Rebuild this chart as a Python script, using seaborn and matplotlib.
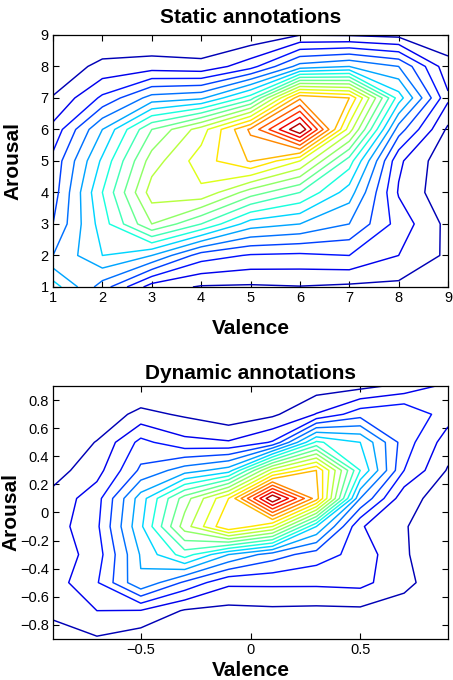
import numpy as np
import matplotlib
matplotlib.use("Agg")
import matplotlib.pyplot as plt
import seaborn as sns

# Static annotations: grid values
# rows go from arousal 1 (bottom) to 9 (top), columns valence 1..9
static_valence = [1, 2, 3, 4, 5, 6, 7, 8, 9]
static_arousal = [1, 2, 3, 4, 5, 6, 7, 8, 9]
static_z = [
    [7.5, 4.5, 1.5, 0.9, 0.85, 0.95, 0.8, 0.75, 0.3],
    [5.0, 7.0, 6.0, 3.5, 2.9, 2.8, 3.0, 2.0, 0.8],
    [4.0, 7.5, 11.0, 9.0, 6.5, 6.0, 5.0, 2.6, 0.7],
    [3.5, 8.0, 12.5, 12.8, 10.5, 9.0, 6.5, 1.9, 0.2],
    [3.3, 7.2, 11.5, 13.5, 15.1, 13.0, 8.5, 2.2, 0.2],
    [2.3, 6.0, 10.0, 12.5, 16.2, 21.0, 12.5, 4.5, 0.8],
    [1.05, 3.2, 5.4, 5.8, 8.5, 15.8, 15.0, 7.5, 2.2],
    [0.4, 1.25, 1.5, 1.3, 2.6, 5.4, 6.0, 5.0, 1.3],
    [0.1, 0.2, 0.0, 0.1, 0.2, 0.97, 0.9, 0.7, 0.4],
]
static_ticks = [1, 2, 3, 4, 5, 6, 7, 8, 9]

# Dynamic annotations: rows arousal -0.9 .. 0.9, columns valence -0.9 .. 0.9
dynamic_valence = [-0.9, -0.7, -0.5, -0.3, -0.1, 0.1, 0.3, 0.5, 0.7, 0.9]
dynamic_arousal = [-0.9, -0.7, -0.5, -0.3, -0.1, 0.1, 0.3, 0.5, 0.7, 0.9]
dynamic_z = [
    [0.6, 0.9, 0.4, 0.2, 0.2, 0.2, 0.2, 0.2, 0.2, 0.1],
    [1.2, 2.0, 1.95, 0.9, 0.7, 0.8, 0.75, 0.8, 0.5, 0.2],
    [1.5, 2.9, 5.9, 3.8, 2.2, 2.2, 2.2, 2.3, 1.3, 0.2],
    [1.3, 2.5, 6.1, 8.5, 6.0, 4.5, 3.5, 2.6, 1.1, 0.3],
    [1.5, 2.8, 6.8, 11.5, 15.0, 13.0, 7.0, 2.1, 1.05, 0.5],
    [1.3, 2.6, 6.5, 10.5, 14.0, 21.0, 15.5, 5.0, 1.3, 0.6],
    [0.6, 1.6, 4.2, 5.5, 6.5, 12.5, 15.0, 8.0, 3.0, 0.9],
    [0.2, 1.05, 3.3, 2.3, 2.1, 3.1, 8.2, 7.0, 3.5, 1.5],
    [0.1, 0.3, 1.3, 0.85, 0.3, 0.8, 2.05, 3.6, 4.0, 2.4],
    [0.0, 0.0, 0.0, 0.1, 0.0, 0.3, 0.5, 0.7, 1.3, 2.3],
]
dynamic_xticks = [-0.5, 0, 0.5]
dynamic_xtick_labels = ['\u22120.5', '0', '0.5']
dynamic_yticks = [-0.8, -0.6, -0.4, -0.2, 0, 0.2, 0.4, 0.6, 0.8]
dynamic_ytick_labels = ['\u22120.8', '\u22120.6', '\u22120.4', '\u22120.2', '0',
                        '0.2', '0.4', '0.6', '0.8']

contour_levels = list(range(1, 21))

sns.set_theme(style="ticks")
plt.rcParams['font.family'] = ['Liberation Sans', 'DejaVu Sans']
plt.rcParams['text.color'] = 'black'
plt.rcParams['axes.labelcolor'] = 'black'

fig = plt.figure(figsize=(4.53, 6.8), dpi=100)
ax_top = fig.add_axes([0.117, 0.578, 0.872, 0.3706])
ax_bot = fig.add_axes([0.117, 0.0607, 0.872, 0.3713])

# seaborn refuses "jet" by name, so sample the matplotlib map the same way
# (20 evenly spaced interior points, one colour per level)
jet = plt.get_cmap('jet')
colors = [jet(v) for v in np.linspace(0, 1, len(contour_levels) + 2)[1:-1]]


def style_axes(ax, title, title_y, xlabel_y, ylabel_x):
    ax.set_title(title, fontsize=15, fontweight='bold', y=title_y, pad=0,
                 color='black')
    ax.set_xlabel('Valence', fontsize=15, fontweight='bold', color='black')
    ax.set_ylabel('Arousal', fontsize=15, fontweight='bold', color='black')
    ax.xaxis.set_label_coords(0.5, xlabel_y)
    ax.yaxis.set_label_coords(ylabel_x, 0.5)
    ax.tick_params(direction='in', length=4, width=0.8, colors='black',
                   labelsize=10.5, top=True, right=True, pad=3)
    for spine in ax.spines.values():
        spine.set_color('black')
        spine.set_linewidth(0.9)
    ax.set_facecolor('white')


# Static annotations
ax_top.contour(static_valence, static_arousal, np.array(static_z),
               levels=contour_levels, colors=colors, linewidths=1.05)
ax_top.set_xlim(1, 9)
ax_top.set_ylim(1, 9)
ax_top.set_xticks(static_ticks)
ax_top.set_yticks(static_ticks)
style_axes(ax_top, 'Static annotations', 1.049, -0.128, -0.078)

# Dynamic annotations
ax_bot.contour(dynamic_valence, dynamic_arousal, np.array(dynamic_z),
               levels=contour_levels, colors=colors, linewidths=1.05)
ax_bot.set_xlim(-0.9, 0.9)
ax_bot.set_ylim(-0.9, 0.9)
ax_bot.set_xticks(dynamic_xticks)
ax_bot.set_xticklabels(dynamic_xtick_labels)
ax_bot.set_yticks(dynamic_yticks)
ax_bot.set_yticklabels(dynamic_ytick_labels)
style_axes(ax_bot, 'Dynamic annotations', 1.027, -0.088, -0.083)

fig.savefig('out.png', dpi=100, facecolor='white')
